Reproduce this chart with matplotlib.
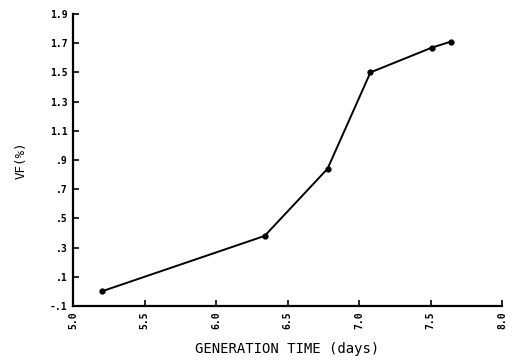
import numpy as np
import matplotlib
matplotlib.use('Agg')
import matplotlib.pyplot as plt

# generation time vs VF
gen_time = [5.2, 6.34, 6.78, 7.08, 7.51, 7.64]
vf_pct = [0.0, 0.38, 0.84, 1.50, 1.67, 1.71]

x_ticks = [5.0, 5.5, 6.0, 6.5, 7.0, 7.5, 8.0]
x_labels = ['5.0', '5.5', '6.0', '6.5', '7.0', '7.5', '8.0']
y_ticks = [-0.1, 0.1, 0.3, 0.5, 0.7, 0.9, 1.1, 1.3, 1.5, 1.7, 1.9]
y_labels = ['-.1', '.1', '.3', '.5', '.7', '.9', '1.1', '1.3', '1.5', '1.7', '1.9']

plt.rcParams['font.family'] = ['DejaVu Sans Mono']
plt.rcParams['font.weight'] = 'bold'

fig = plt.figure(figsize=(5.12, 3.62), dpi=100)
ax = fig.add_axes([73/512, 1 - 306/362, (502 - 73)/512, (306 - 14)/362])

ax.plot(gen_time, vf_pct, color='black', lw=1.4, marker='o', ms=3.5)

ax.set_xlim(5.0, 8.0)
ax.set_ylim(-0.1, 1.9)
ax.set_xticks(x_ticks)
ax.set_xticklabels(x_labels, rotation=90, fontsize=7)
ax.set_yticks(y_ticks)
ax.set_yticklabels(y_labels, fontsize=7)
ax.tick_params(direction='in', length=4, width=1.2, pad=4)

for s in ['top', 'right']:
	ax.spines[s].set_visible(False)
for s in ['left', 'bottom']:
	ax.spines[s].set_linewidth(1.6)

ax.set_xlabel('GENERATION TIME (days)', fontsize=10, fontweight='normal', labelpad=9)
ax.set_ylabel('VF(%)', fontsize=9, labelpad=16)

fig.savefig('out.png', dpi=100)
